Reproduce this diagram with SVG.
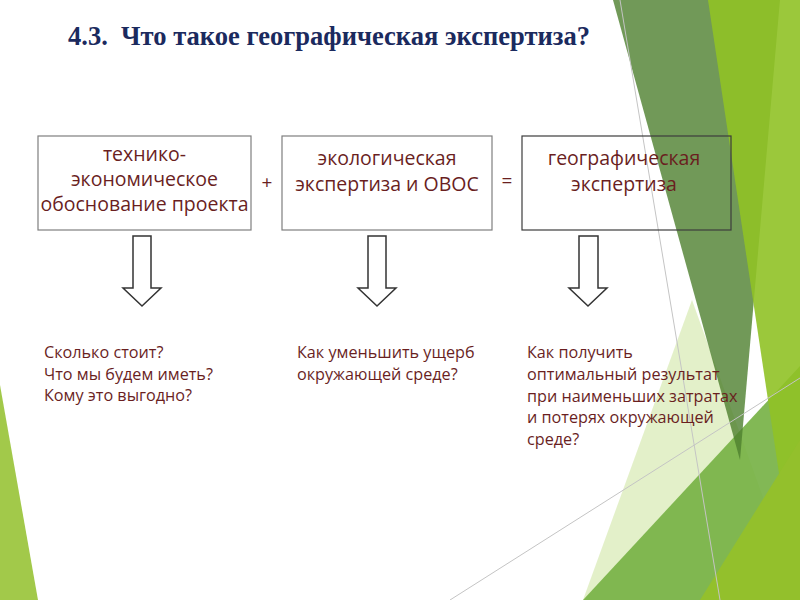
<svg xmlns="http://www.w3.org/2000/svg" width="800" height="600" viewBox="0 0 800 600">
<style>
.box{fill:none;stroke:#7f7f7f;stroke-width:1.2}
.t{font-family:"Open Sans","Noto Sans","DejaVu Sans",sans-serif;fill:#6a1f1f}
.bt{font-size:19.5px;text-anchor:middle}
.q{font-size:16.2px}
.arrow{fill:#fff;stroke:#333;stroke-width:1.5;stroke-linejoin:miter}
.ln{stroke:#c4c4c4;stroke-width:1;fill:none}
</style>
<rect width="800" height="600" fill="#fff"/>
<g id="background">
<polygon points="0,385 0,600 38,600" fill="#a2c94a"/>
<polygon points="692,300 583,600 800,600" fill="#90c226" fill-opacity="0.25"/>
<polygon points="583,600 800,366 800,600" fill="#74b042" fill-opacity="0.9"/>
<polygon points="613,0 780,0 740,460" fill="#4e7f2e" fill-opacity="0.8"/>
<polygon points="708,0 800,0 800,600 798,600" fill="#90c226" fill-opacity="0.9"/>
<polygon points="700,600 800,440 800,600" fill="#93c02c"/>
<line class="ln" x1="620" y1="0" x2="720" y2="600"/>
<line class="ln" x1="450" y1="600" x2="800" y2="378"/>
</g>
<text x="68" y="45" xml:space="preserve" font-family="Liberation Serif,serif" font-weight="bold" font-size="28" fill="#1b2a5e" textLength="522" lengthAdjust="spacingAndGlyphs">4.3.  Что такое географическая экспертиза?</text>
<g id="node1">
<rect class="box" x="38" y="136" width="213" height="94"/>
<text class="t bt" x="144.5" y="161">технико-</text>
<text class="t bt" x="144.5" y="186">экономическое</text>
<text class="t bt" x="144.5" y="211">обоснование проекта</text>
</g>
<text class="t" x="267" y="189" font-size="19" text-anchor="middle">+</text>
<g id="node2">
<rect class="box" x="282" y="136" width="210" height="94"/>
<text class="t bt" x="387" y="165">экологическая</text>
<text class="t bt" x="387" y="191">экспертиза и ОВОС</text>
</g>
<text class="t" x="507" y="187" font-size="19" text-anchor="middle">=</text>
<g id="node3">
<rect class="box" x="522" y="136" width="209" height="94" style="stroke:#3c3c3c"/>
<text class="t bt" x="624" y="165">географическая</text>
<text class="t bt" x="624" y="191">экспертиза</text>
</g>
<g id="connectors">
<polygon class="arrow" points="133,236 151,236 151,288 161,288 142,306 123,288 133,288"/>
<polygon class="arrow" points="368,236 386,236 386,288 396,288 377,306 358,288 368,288"/>
<polygon class="arrow" points="579,236 598,236 598,288 607,288 588,306 569,288 579,288"/>
</g>
<g id="q1">
<text class="t q" x="44" y="358">Сколько стоит?</text>
<text class="t q" x="44" y="380">Что мы будем иметь?</text>
<text class="t q" x="44" y="401">Кому это выгодно?</text>
</g>
<g id="q2">
<text class="t q" x="297" y="358">Как уменьшить ущерб</text>
<text class="t q" x="297" y="380">окружающей среде?</text>
</g>
<g id="q3">
<text class="t q" x="527" y="358">Как получить</text>
<text class="t q" x="527" y="380">оптимальный результат</text>
<text class="t q" x="527" y="402">при наименьших затратах</text>
<text class="t q" x="527" y="423">и потерях окружающей</text>
<text class="t q" x="527" y="445">среде?</text>
</g>
</svg>
